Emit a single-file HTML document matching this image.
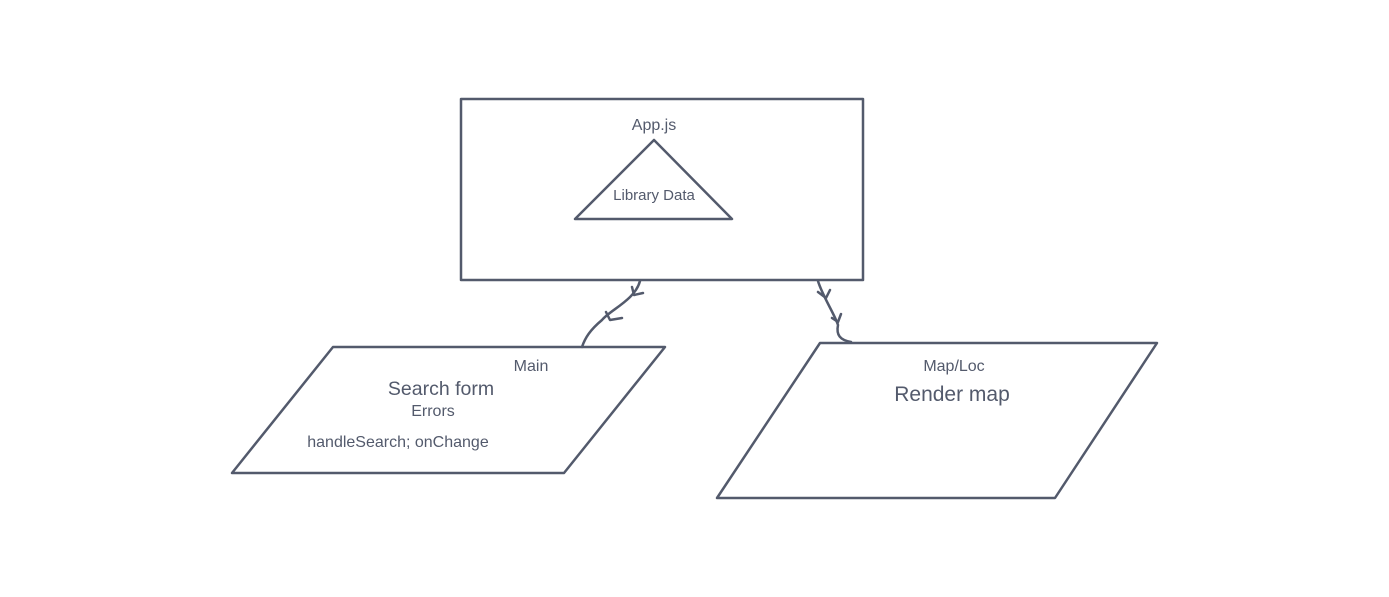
<!DOCTYPE html>
<html><head><meta charset="utf-8"><style>
html,body{margin:0;padding:0;background:#fff;}
svg{display:block;}
text{font-family:"Liberation Sans",sans-serif;fill:#535a6c;}
</style></head><body>
<svg width="1389" height="597" viewBox="0 0 1389 597">
<g fill="none" stroke="#535a6c" stroke-width="2.5" stroke-linecap="round" stroke-linejoin="round">
<rect x="461" y="99" width="402" height="181"/>
<polygon points="654,140 732,219 575,219"/>
<polygon points="333,347 665,347 564,473 232,473"/>
<polygon points="820,343 1157,343 1055,498 717,498"/>
<path d="M640,281 C635,300 610,310 602,320 C590,330 585,338 582,347"/>
<path d="M632,287 L634,295 L643,293"/>
<path d="M606,312 L610,320 L622,318"/>
<path d="M818,281 C822,295 835,315 838,325 C836,335 840,340 851,342"/>
<path d="M818,292 L826,298 L830,290"/>
<path d="M832,318 L838,322 L841,314"/>
</g>
<text x="654" y="130" font-size="16" text-anchor="middle">App.js</text>
<text x="654" y="200" font-size="15" text-anchor="middle">Library Data</text>
<text x="531" y="371" font-size="16" text-anchor="middle">Main</text>
<text x="441" y="395" font-size="19.5" text-anchor="middle">Search form</text>
<text x="433" y="416" font-size="16" text-anchor="middle">Errors</text>
<text x="398" y="447" font-size="16" text-anchor="middle">handleSearch; onChange</text>
<text x="954" y="371" font-size="16" text-anchor="middle">Map/Loc</text>
<text x="952" y="401" font-size="21" text-anchor="middle">Render map</text>
</svg>
</body></html>
